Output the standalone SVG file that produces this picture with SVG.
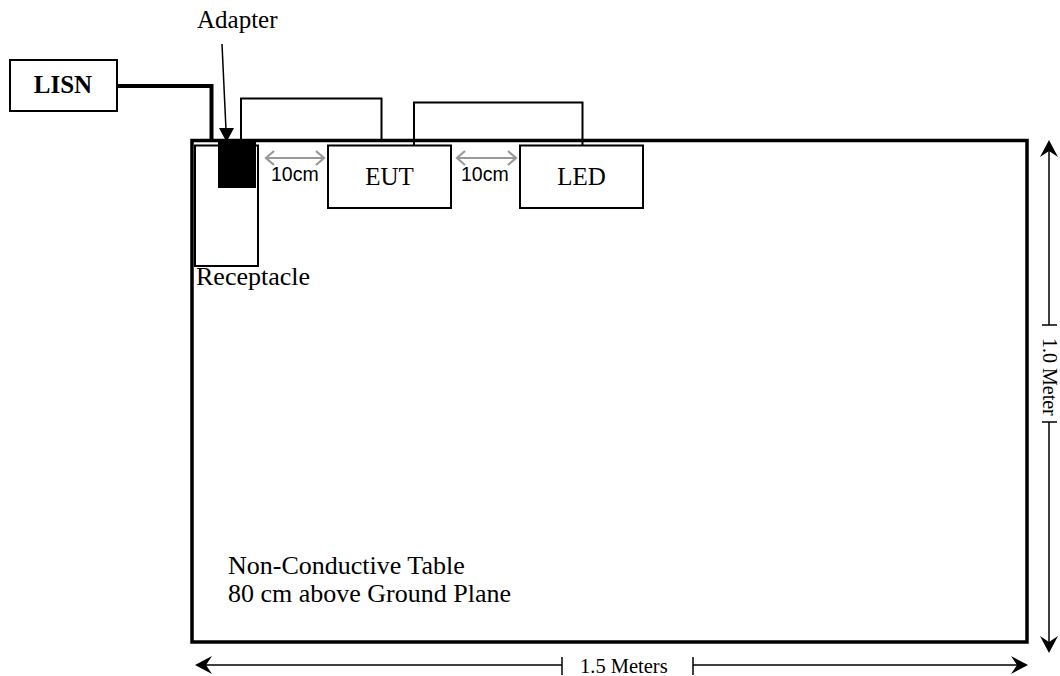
<svg xmlns="http://www.w3.org/2000/svg" width="1060" height="676" viewBox="0 0 1060 676">
<style>
.s{font-family:"Liberation Serif","Times New Roman",serif;font-size:25px;fill:#000}
.a{font-family:"Liberation Sans",Arial,sans-serif;font-size:19.5px;fill:#000}
.box{fill:#fff;stroke:#000;stroke-width:2}
.w{fill:none;stroke:#000;stroke-width:2}
.g{fill:none;stroke:#999;stroke-width:2.2}
.d{fill:none;stroke:#000;stroke-width:1.5}
</style>
<defs>
<path id="stealth" d="M0,0 L-17,-9 L-11,0 L-17,9 Z" fill="#000"/>
</defs>
<rect width="1060" height="676" fill="#fff"/>
<g id="table">
<rect x="192" y="140.5" width="835" height="501.5" fill="#fff" stroke="#000" stroke-width="3.5"/>
<text class="s" x="228" y="574" style="font-size:26px">Non-Conductive Table</text>
<text class="s" x="228" y="602" style="font-size:26px">80 cm above Ground Plane</text>
</g>
<g id="connectors">
<polyline points="117,86 211.5,86 211.5,140" fill="none" stroke="#000" stroke-width="4"/>
<polyline class="w" points="241,140 241,98.5 381.5,98.5 381.5,140"/>
<polyline class="w" points="414,145 414,102.5 582.5,102.5 582.5,145"/>
<line x1="222" y1="44" x2="226" y2="130" stroke="#000" stroke-width="1.5"/>
<polygon points="226.5,142 219,128 234,128" fill="#000"/>
<path class="g" d="M266,158 H324 M274,151 L266,158 L274,165 M316,151 L324,158 L316,165"/>
<path class="g" d="M457,158 H516 M465,151 L457,158 L465,165 M508,151 L516,158 L508,165"/>
<line class="d" x1="1049" y1="150" x2="1049" y2="325"/>
<line class="d" x1="1042" y1="325" x2="1057" y2="325"/>
<line class="d" x1="1042" y1="422" x2="1057" y2="422"/>
<line class="d" x1="1049" y1="422" x2="1049" y2="644"/>
<use href="#stealth" transform="translate(1049,140) rotate(-90)"/>
<use href="#stealth" transform="translate(1049,653) rotate(90)"/>
<line class="d" x1="205" y1="665" x2="562" y2="665"/>
<line class="d" x1="562" y1="657" x2="562" y2="675"/>
<line class="d" x1="693" y1="657" x2="693" y2="675"/>
<line class="d" x1="693" y1="665" x2="1018" y2="665"/>
<use href="#stealth" transform="translate(195,665) rotate(180)"/>
<use href="#stealth" transform="translate(1028,665)"/>
</g>
<g id="lisn">
<rect class="box" x="10" y="60" width="107" height="51"/>
<text class="s" x="63" y="93" text-anchor="middle" font-weight="bold">LISN</text>
</g>
<g id="receptacle">
<rect class="box" x="195" y="145.5" width="63" height="120.5"/>
<text class="s" x="196" y="285" style="font-size:26px">Receptacle</text>
</g>
<g id="adapter">
<rect x="218" y="142" width="38" height="46" fill="#000"/>
<text class="s" x="197" y="28">Adapter</text>
</g>
<g id="eut">
<rect class="box" x="328" y="145.5" width="123" height="62.5"/>
<text class="s" x="389.5" y="185" text-anchor="middle">EUT</text>
</g>
<g id="led">
<rect class="box" x="520" y="145.5" width="123" height="62.5"/>
<text class="s" x="581.5" y="185" text-anchor="middle">LED</text>
</g>
<g id="labels">
<text class="a" x="271" y="181">10cm</text>
<text class="a" x="461" y="181">10cm</text>
<text class="s" x="580" y="673" style="font-size:20.5px">1.5 Meters</text>
<text class="s" style="font-size:20px" transform="translate(1043,338) rotate(90)">1.0 Meter</text>
</g>
</svg>
